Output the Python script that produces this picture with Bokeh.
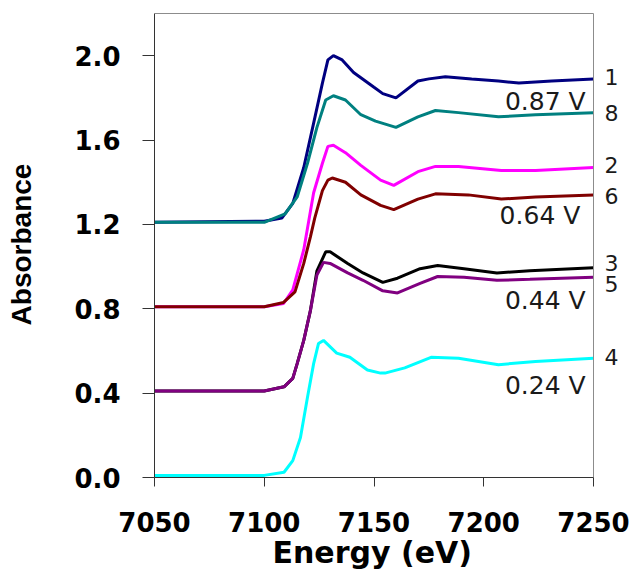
from bokeh.plotting import figure
from bokeh.models import Label, FixedTicker, Range1d, CustomJSTickFormatter, Title
from bokeh.embed import file_html
from bokeh.resources import INLINE

# ---- data ----
e1 = [7050, 7100, 7108, 7113, 7118, 7122.5, 7126.5, 7129, 7131.5, 7135.5, 7140.7, 7150, 7154, 7160, 7170, 7175, 7182.5, 7194.5, 7206.7, 7216, 7231, 7250]
a1 = [1.21, 1.215, 1.23, 1.30, 1.47, 1.68, 1.87, 1.98, 2.00, 1.98, 1.92, 1.85, 1.82, 1.80, 1.88, 1.89, 1.90, 1.89, 1.88, 1.87, 1.88, 1.89]

e8 = [7050, 7100, 7109.5, 7115, 7119.7, 7124, 7128, 7131.5, 7137, 7144, 7150.7, 7160, 7170, 7178, 7188.5, 7206.7, 7223.6, 7250]
a8 = [1.21, 1.21, 1.25, 1.33, 1.49, 1.66, 1.79, 1.81, 1.79, 1.72, 1.69, 1.66, 1.71, 1.74, 1.73, 1.71, 1.72, 1.73]

e2 = [7050, 7100, 7108.8, 7113, 7118, 7122.5, 7126.5, 7129, 7131.5, 7137, 7144, 7153, 7159, 7170, 7178, 7188.5, 7208, 7223.6, 7250]
a2 = [0.81, 0.81, 0.825, 0.89, 1.08, 1.35, 1.49, 1.57, 1.575, 1.54, 1.48, 1.41, 1.385, 1.45, 1.475, 1.475, 1.456, 1.456, 1.47]

e6 = [7050, 7100, 7108.8, 7114, 7118, 7121, 7123, 7126.5, 7129, 7131, 7137, 7144, 7153, 7159, 7170, 7178, 7193, 7208, 7223.6, 7250]
a6 = [0.81, 0.81, 0.83, 0.88, 1.015, 1.14, 1.23, 1.36, 1.41, 1.42, 1.40, 1.34, 1.29, 1.27, 1.32, 1.345, 1.34, 1.32, 1.33, 1.34]

e3 = [7050, 7100, 7109, 7113, 7115, 7118, 7121, 7124, 7128, 7130, 7138, 7145, 7154, 7160.7, 7171, 7179, 7191, 7206, 7221, 7250]
a3 = [0.41, 0.41, 0.43, 0.47, 0.54, 0.65, 0.79, 0.98, 1.07, 1.07, 1.015, 0.97, 0.925, 0.945, 0.99, 1.005, 0.99, 0.97, 0.98, 0.995]

e5 = [7050, 7100, 7109, 7113, 7115, 7118, 7121, 7124, 7127, 7130, 7138, 7145, 7154, 7160.7, 7171, 7179, 7191, 7206, 7221, 7250]
a5 = [0.41, 0.41, 0.43, 0.47, 0.54, 0.65, 0.79, 0.96, 1.02, 1.015, 0.97, 0.935, 0.885, 0.875, 0.92, 0.953, 0.95, 0.935, 0.94, 0.95]

e4 = [7050, 7100, 7109, 7113, 7116.5, 7119.7, 7122.5, 7124.7, 7127, 7133, 7139, 7147, 7153, 7155, 7164, 7176, 7188.5, 7206.7, 7223.6, 7250]
a4 = [0.01, 0.01, 0.025, 0.08, 0.19, 0.38, 0.54, 0.635, 0.65, 0.59, 0.57, 0.51, 0.495, 0.495, 0.52, 0.57, 0.565, 0.535, 0.55, 0.565]

x_ticks = [7050, 7100, 7150, 7200, 7250]
y_ticks = [0.0, 0.4, 0.8, 1.2, 1.6, 2.0]
x_min, x_max = 7050, 7250
y_min, y_max = 0.0, 2.2

curve_names = ["1", "8", "2", "6", "3", "5", "4"]
curve_label_y = [1.90, 1.727, 1.48, 1.333, 1.015, 0.916, 0.569]
volt_labels = ["0.87 V", "0.64 V", "0.44 V", "0.24 V"]
volt_label_x = [7246.4, 7244.0, 7246.4, 7246.4]
volt_label_y = [1.784, 1.243, 0.84, 0.436]

series = [(e1, a1, "#000080"), (e8, a8, "#008080"), (e2, a2, "#FF00FF"),
          (e6, a6, "#800000"), (e3, a3, "#000000"), (e5, a5, "#800080"),
          (e4, a4, "#00FFFF")]

# layout: plot box 439 px wide for 200 eV; frame extended to the right for labels
W, H = 636, 571
left, right, top, bottom = 154, 4, 11, 94
frame_w = W - left - right
frame_h = H - top - bottom
px_per_x = 439 / (x_max - x_min)
px_per_y = (frame_h - 2) / (y_max - y_min)
x_end = x_min + frame_w / px_per_x
y_end = y_max + 2 / px_per_y

p = figure(width=W, height=H, output_backend="svg", toolbar_location=None,
           x_range=Range1d(x_min, x_end), y_range=Range1d(y_min, y_end),
           min_border_left=left, min_border_right=right, min_border_top=top,
           min_border_bottom=bottom)

for xs, ys, c in series:
    p.line(xs, ys, line_color=c, line_width=3)

# top and right box edges of the plot area
p.segment(x0=[x_min, x_max], y0=[y_max, y_min], x1=[x_max, x_max], y1=[y_max, y_max],
          line_color="#8c8c8c", line_width=1)

p.xgrid.visible = False
p.ygrid.visible = False
p.outline_line_color = None
p.background_fill_color = "white"
p.border_fill_color = "white"

p.xaxis.ticker = FixedTicker(ticks=x_ticks)
p.yaxis.ticker = FixedTicker(ticks=y_ticks)
p.yaxis.formatter = CustomJSTickFormatter(code="return tick.toFixed(1);")
p.xaxis.bounds = (x_min, x_max)
p.yaxis.bounds = (y_min, y_max)

for ax in (p.xaxis[0], p.yaxis[0]):
    ax.axis_line_color = "#333333"
    ax.major_tick_line_color = "#333333"
    ax.minor_tick_line_color = None
    ax.major_tick_in = 0
    ax.major_label_text_font = "DejaVu Sans"
    ax.major_label_text_font_style = "bold"
    ax.major_label_text_font_size = "26px"
    ax.major_label_text_color = "#000000"
    ax.axis_label_text_font_style = "bold"
    ax.axis_label_text_color = "#000000"

p.xaxis.major_tick_out = 9
p.xaxis.major_label_standoff = 25
p.yaxis.major_tick_out = 12
p.yaxis.major_label_standoff = 22

# x-axis title, centred under the 7050-7250 box (not the extended frame)
p.add_layout(Title(text="Energy (eV)", align="left", offset=118, standoff=0,
                   vertical_align="top", text_font="DejaVu Sans", text_font_style="bold",
                   text_font_size="30px", text_color="#000000"), "below")

p.yaxis.axis_label = "Absorbance"
p.yaxis.axis_label_text_font = "Liberation Sans"
p.yaxis.axis_label_text_font_size = "28px"
p.yaxis.axis_label_standoff = 34

for name, yy in zip(curve_names, curve_label_y):
    p.add_layout(Label(x=7255, y=yy, text=name, text_align="left", text_baseline="middle",
                       text_font="DejaVu Sans", text_font_size="22px", text_color="#1a1a1a"))

for t, xx, yy in zip(volt_labels, volt_label_x, volt_label_y):
    p.add_layout(Label(x=xx, y=yy, text=t, text_align="right", text_baseline="middle",
                       text_font="DejaVu Sans", text_font_size="25px", text_color="#1a1a1a"))

open("out.html", "w").write(file_html(p, INLINE))
